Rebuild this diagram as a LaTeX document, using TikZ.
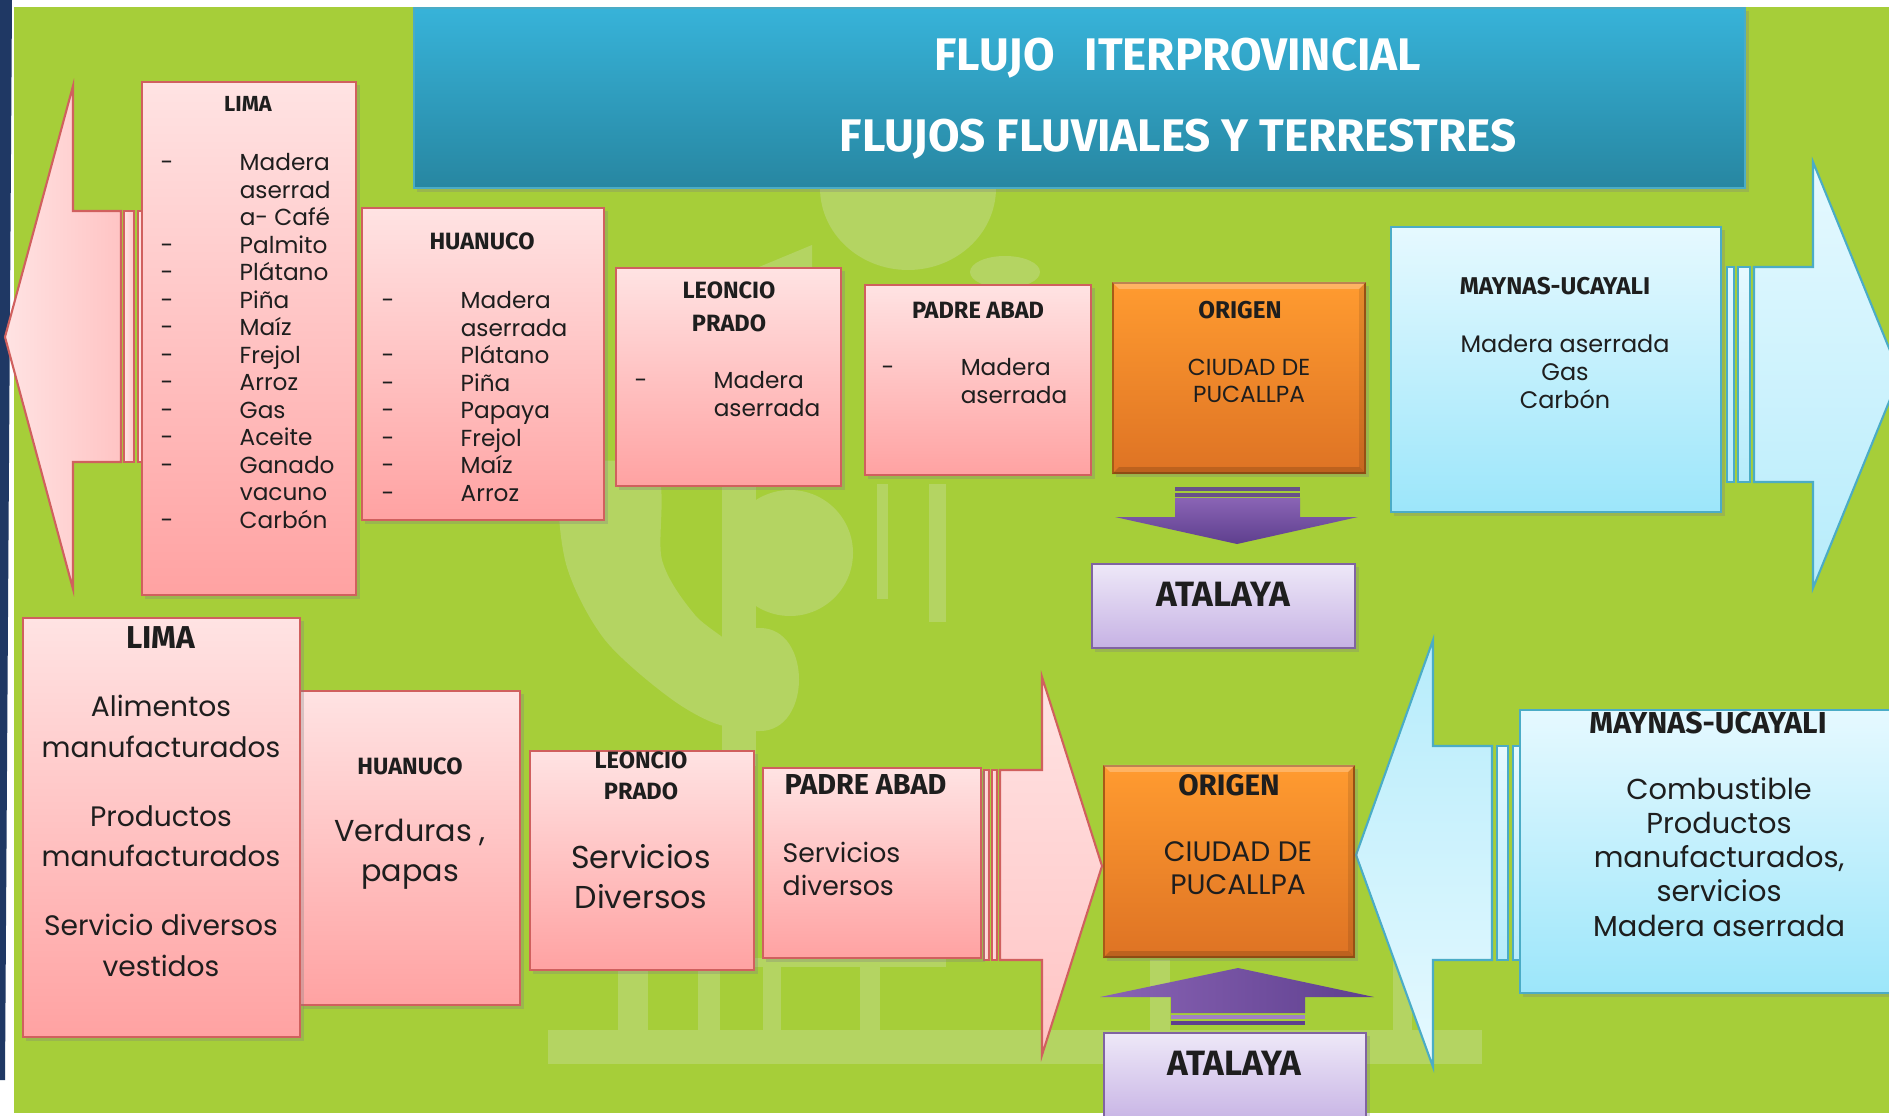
\documentclass[tikz,border=0pt]{standalone}
\usepackage{fontspec}
\setmainfont{Poppins}
\newfontfamily\hdfont{Fira Sans}
\usetikzlibrary{shadows,calc}

\definecolor{bggreen}{HTML}{A6CE39}
\definecolor{wmgreen}{HTML}{B4D462}
\definecolor{navy}{HTML}{1F3864}
\definecolor{pinktop}{HTML}{FFE3E3}
\definecolor{pinkmid}{HTML}{FFC4C4}
\definecolor{pinkbot}{HTML}{FFA2A2}
\definecolor{pinkline}{HTML}{D0605E}
\definecolor{bluetop}{HTML}{E6F9FF}
\definecolor{bluemid}{HTML}{B6ECFB}
\definecolor{bluebot}{HTML}{9CE6FA}
\definecolor{blueline}{HTML}{4BACC6}
\definecolor{orgtop}{HTML}{FF9B30}
\definecolor{orgbot}{HTML}{DE7324}
\definecolor{orgline}{HTML}{A85A17}
\definecolor{lavtop}{HTML}{EEE8F8}
\definecolor{lavbot}{HTML}{C6B2E4}
\definecolor{lavline}{HTML}{8064A2}
\definecolor{purptop}{HTML}{8A64B5}
\definecolor{purpbot}{HTML}{5E3F8E}
\definecolor{ttltop}{HTML}{37B3D9}
\definecolor{ttlbot}{HTML}{2786A1}
\definecolor{txt}{HTML}{1E1E1E}

\newcommand{\dashitem}[1]{\makebox[0.79cm][l]{-}#1}
\newcommand{\contitem}[1]{\hspace*{0.79cm}#1}

\begin{document}
\begin{tikzpicture}[x=0.01cm, y=-0.01cm,
    box/.style={rectangle, draw=pinkline, line width=0.6pt, top color=pinktop, bottom color=pinkbot, inner sep=0pt,
      drop shadow={shadow xshift=0.035cm, shadow yshift=-0.035cm, opacity=0.3}},
    bluebox/.style={box, draw=blueline, top color=bluetop, bottom color=bluebot},
    origbox/.style={box, draw=orgline, top color=orgtop, bottom color=orgbot},
    atalbox/.style={box, draw=lavline, top color=lavtop, bottom color=lavbot},
    pinkarrow/.style={draw=pinkline, line width=0.6pt, left color=pinktop, right color=pinkmid},
    bluearrow/.style={draw=blueline, line width=0.6pt, top color=bluetop, bottom color=bluemid},
    purparrow/.style={top color=purptop, bottom color=purpbot},
    hd/.style 2 args={font=\hdfont\bfseries\fontsize{#1}{#2}\selectfont, text=txt, inner sep=0pt, align=center},
    body/.style 2 args={font=\fontsize{#1}{#2}\selectfont, text=txt, inner sep=0pt, align=center},
    lst/.style 2 args={font=\fontsize{#1}{#2}\selectfont, text=txt, inner sep=0pt, align=left, anchor=north west}]
    \clip (0,0) rectangle (1889,1116);

    % Background
    \fill[white] (0,0) rectangle (1889,1116);
    \fill[navy] (0,0) -- (12,0) -- (5,1080) -- (0,1080) -- cycle;
    \fill[bggreen] (14,7) rectangle (1889,1113);

    % Watermark (faint logo)
    \fill[wmgreen] plot[smooth cycle] coordinates {(566,470) (565,560) (605,640) (680,705) (735,725) (745,660) (695,615) (662,560) (655,470)};
    \fill[wmgreen] (790,553) circle (63);
    \fill[wmgreen] (722,478) rectangle (756,766);
    \fill[wmgreen] (722,628) -- (760,628) .. controls (812,628) and (812,731) .. (760,731) -- (722,731) -- cycle;
    \fill[wmgreen] (877,484) rectangle (888,599);
    \fill[wmgreen] (929,484) rectangle (946,622);
    \fill[wmgreen] (908,188) ellipse (88 and 82);
    \fill[wmgreen] (1005,272) ellipse (35 and 16);
    \fill[wmgreen] (759,267) -- (812,245) -- (812,267) -- cycle;
    % Watermark (faint building)
    \fill[wmgreen] (548,1030) rectangle (1482,1064);
    \fill[wmgreen] (618,958) rectangle (946,967);
    \foreach \cx/\cw in {618/30,698/22,763/18,860/20,1150/20,1393/19}
        \fill[wmgreen] (\cx,960) rectangle ++(\cw,70);

    % Block arrows
    \path[pinkarrow] (121,211) -- (73,211) -- (73,86) -- (5,337) -- (73,589) -- (73,462) -- (121,462) -- cycle;
    \path[pinkarrow] (124,211) rectangle (134,462);
    \path[pinkarrow] (138,211) rectangle (150,462);

    \path[bluearrow] (1754,267) -- (1813,267) -- (1813,162) -- (1900,375) -- (1813,588) -- (1813,482) -- (1754,482) -- cycle;
    \path[bluearrow] (1738,267) rectangle (1750,482);
    \path[bluearrow] (1727,267) rectangle (1734,482);

    \path[pinkarrow, top color=pinktop, bottom color=pinkmid] (1000,770) -- (1042,770) -- (1042,677) -- (1102,866) -- (1042,1055) -- (1042,960) -- (1000,960) -- cycle;
    \path[pinkarrow] (992,770) rectangle (997,960);
    \path[pinkarrow] (984,770) rectangle (989,960);

    \path[bluearrow, top color=bluemid, bottom color=bluetop] (1492,746) -- (1433,746) -- (1433,640) -- (1356,855) -- (1433,1067) -- (1433,960) -- (1492,960) -- cycle;
    \path[bluearrow] (1497,746) rectangle (1508,960);
    \path[bluearrow] (1513,746) rectangle (1525,960);

    \path[purparrow] (1175,498) -- (1300,498) -- (1300,517) -- (1358,517) -- (1237,544) -- (1115,517) -- (1175,517) -- cycle;
    \fill[purpbot!70!gray] (1175,487) rectangle (1300,491);
    \fill[purpbot!70!gray] (1175,493) rectangle (1300,497);

    \path[purparrow, left color=purptop, right color=purpbot] (1171,1013) -- (1171,997) -- (1100,997) -- (1238,968) -- (1374,997) -- (1305,997) -- (1305,1013) -- cycle;
    \fill[purptop!80!white] (1171,1015) rectangle (1305,1019);
    \fill[purpbot] (1171,1021) rectangle (1305,1025);

    % Title
    \node[box, draw=blueline, top color=ttltop, bottom color=ttlbot, minimum width=13.31cm, minimum height=1.80cm] (ttl) at (1079.5,98) {};
    \node[hd={13}{23}, text=white] (ttltxt) at (1178,99) {FLUJO\hspace{0.3cm}ITERPROVINCIAL\\FLUJOS FLUVIALES Y TERRESTRES};

    % Top row boxes
    \node[box, minimum width=2.14cm, minimum height=5.13cm] (limaA) at (249,338.5) {};
    \node[box, minimum width=2.42cm, minimum height=3.12cm] (huanA) at (483,364) {};
    \node[box, minimum width=2.25cm, minimum height=2.18cm] (leonA) at (728.5,377) {};
    \node[box, minimum width=2.26cm, minimum height=1.90cm] (padreA) at (978,380) {};
    \node[origbox, minimum width=2.52cm, minimum height=1.90cm] (origA) at (1239,378) {};
    \node[atalbox, minimum width=2.63cm, minimum height=0.84cm] (atalA) at (1223.5,606) {};
    \node[bluebox, minimum width=3.30cm, minimum height=2.85cm] (maynA) at (1556,369.5) {};

    % Bottom row boxes
    \node[box, minimum width=2.20cm, minimum height=3.14cm] (huanB) at (410,848) {};
    \node[box, minimum width=2.77cm, minimum height=4.19cm] (limaB) at (161.5,827.5) {};
    \node[box, minimum width=2.24cm, minimum height=2.19cm] (leonB) at (642,860.5) {};
    \node[box, minimum width=2.18cm, minimum height=1.90cm] (padreB) at (872,863) {};
    \node[origbox, minimum width=2.50cm, minimum height=1.91cm] (origB) at (1229,861.5) {};
    \node[atalbox, minimum width=2.62cm, minimum height=0.92cm] (atalB) at (1235,1079) {};
    \node[bluebox, minimum width=3.80cm, minimum height=2.83cm] (maynB) at (1710,851.5) {};

    % Bevel on the origin boxes
    \foreach \n in {origA,origB} {
        \fill[white, opacity=0.25] (\n.north west) -- (\n.north east) -- ($(\n.north east)+(-7,7)$) -- ($(\n.north west)+(7,7)$) -- cycle;
        \fill[black, opacity=0.15] (\n.south west) -- (\n.south east) -- ($(\n.south east)+(-7,-7)$) -- ($(\n.south west)+(7,-7)$) -- cycle;
        \fill[black, opacity=0.10] (\n.north east) -- (\n.south east) -- ($(\n.south east)+(-7,-7)$) -- ($(\n.north east)+(-7,7)$) -- cycle;
    }

    % Top row texts
    \node[hd={6.2}{8}] (limaAhd) at (248,104) {LIMA};
    \node[lst={6.6}{7.82}] (limaAls) at (160,153) {\dashitem{Madera}\\\contitem{aserrad}\\\contitem{a- Café}\\\dashitem{Palmito}\\\dashitem{Plátano}\\\dashitem{Piña}\\\dashitem{Maíz}\\\dashitem{Frejol}\\\dashitem{Arroz}\\\dashitem{Gas}\\\dashitem{Aceite}\\\dashitem{Ganado}\\\contitem{vacuno}\\\dashitem{Carbón}};
    \node[hd={6.7}{8}] (huanAhd) at (482,241) {HUANUCO};
    \node[lst={6.6}{7.82}] (huanAls) at (381,291) {\dashitem{Madera}\\\contitem{aserrada}\\\dashitem{Plátano}\\\dashitem{Piña}\\\dashitem{Papaya}\\\dashitem{Frejol}\\\dashitem{Maíz}\\\dashitem{Arroz}};
    \node[hd={6.7}{9.4}] (leonAhd) at (729,306.5) {LEONCIO\\PRADO};
    \node[lst={6.6}{7.82}] (leonAls) at (634,371) {\dashitem{Madera}\\\contitem{aserrada}};
    \node[hd={6.7}{8}] (padreAhd) at (978,310) {PADRE ABAD};
    \node[lst={6.6}{7.82}] (padreAls) at (881,358) {\dashitem{Madera}\\\contitem{aserrada}};
    \node[hd={6.9}{8}] (origAhd) at (1240,310) {ORIGEN};
    \node[body={6.6}{7.9}] (origAtx) at (1249,381) {CIUDAD DE\\PUCALLPA};
    \node[hd={10}{12}] (atalAtx) at (1223,594) {ATALAYA};
    \node[hd={6.9}{8}] (maynAhd) at (1555,286) {MAYNAS-UCAYALI};
    \node[body={6.8}{7.9}] (maynAtx) at (1565,372) {Madera aserrada\\Gas\\Carbón};

    % Bottom row texts
    \node[hd={9}{11}] (limaBhd) at (161,638) {LIMA};
    \node[body={8}{11.6}] (limaBtx) at (161,836) {Alimentos\\manufacturados\\[8pt]Productos\\manufacturados\\[8pt]Servicio diversos\\vestidos};
    \node[hd={6.7}{8}] (huanBhd) at (410,766) {HUANUCO};
    \node[body={8.6}{11.4}] (huanBtx) at (410,854) {Verduras ,\\papas};
    \node[hd={6.7}{8.8}] (leonBhd) at (641,775.5) {LEONCIO\\PRADO};
    \node[body={9}{11.4}] (leonBtx) at (641,877) {Servicios\\Diversos};
    \node[hd={8.2}{9}, anchor=west] (padreBhd) at (784,785) {PADRE ABAD};
    \node[body={7.6}{9.4}, align=left, anchor=west] (padreBtx) at (782,868.5) {Servicios\\diversos};
    \node[hd={8.4}{9}] (origBhd) at (1229,785) {ORIGEN};
    \node[body={8}{9.4}] (origBtx) at (1238,868.5) {CIUDAD DE\\PUCALLPA};
    \node[hd={10}{12}] (atalBtx) at (1234,1063) {ATALAYA};
    \node[hd={8.6}{9}] (maynBhd) at (1708,723) {MAYNAS-UCAYALI};
    \node[body={8.2}{9.7}] (maynBtx) at (1719,857) {Combustible\\Productos\\manufacturados,\\servicios\\Madera aserrada};
\end{tikzpicture}
\end{document}
